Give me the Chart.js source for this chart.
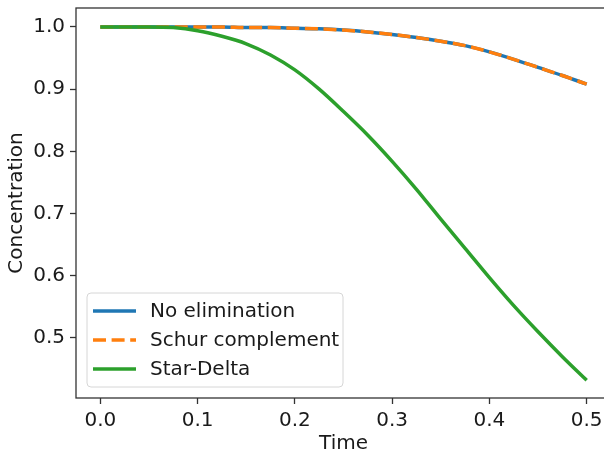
<!DOCTYPE html>
<html>
<head>
<meta charset="utf-8">
<script src="https://cdn.jsdelivr.net/npm/chart.js@4/dist/chart.umd.min.js"></script>
<style>
  html, body { margin: 0; padding: 0; background: #fff; overflow: hidden; }
  #wrap { width: 620px; height: 457px; }
</style>
</head>
<body>
<div id="wrap"><canvas id="concChart"></canvas></div>
<script>
// Data
const times = [0.000, 0.025, 0.050, 0.075, 0.100, 0.125, 0.150, 0.175, 0.200, 0.225, 0.250,
               0.275, 0.300, 0.325, 0.350, 0.375, 0.400, 0.425, 0.450, 0.475, 0.500];
const noElimination = [1.000, 1.000, 1.000, 1.000, 1.000, 1.000, 0.999, 0.999, 0.998, 0.997, 0.995,
                       0.992, 0.988, 0.983, 0.977, 0.970, 0.960, 0.948, 0.935, 0.922, 0.908];
const schurComplement = [1.000, 1.000, 1.000, 1.000, 1.000, 1.000, 0.999, 0.999, 0.998, 0.997, 0.995,
                         0.992, 0.988, 0.983, 0.977, 0.970, 0.960, 0.948, 0.935, 0.922, 0.908];
const starDelta = [1.000, 1.000, 1.000, 0.999, 0.994, 0.985, 0.973, 0.955, 0.931, 0.900, 0.864,
                   0.826, 0.784, 0.739, 0.691, 0.644, 0.597, 0.552, 0.510, 0.470, 0.432];
const seriesNames = ['No elimination', 'Schur complement', 'Star-Delta'];
const xTicks = [0.0, 0.1, 0.2, 0.3, 0.4, 0.5];
const yTicks = [0.5, 0.6, 0.7, 0.8, 0.9, 1.0];

const FONT = 'DejaVu Sans';
const toPoints = (ys) => ys.map((y, i) => ({x: times[i], y: y}));

// no extra room for overhanging tick labels, the plot box is fixed
function fixBox(s) {
    s.paddingTop = 0; s.paddingBottom = 0; s.paddingLeft = 0; s.paddingRight = 0;
}

// frame around the plot area + legend inside it
const framePlugin = {
    id: 'frame',
    afterDatasetsDraw(chart) {
        const {ctx, chartArea} = chart;
        ctx.save();
        ctx.strokeStyle = '#333';
        ctx.lineWidth = 1.3;
        ctx.strokeRect(chartArea.left, chartArea.top, chartArea.right - chartArea.left, chartArea.bottom - chartArea.top);

        // legend box
        const bx = 87, by = 293, bw = 256, bh = 94, r = 4;
        ctx.beginPath();
        ctx.moveTo(bx + r, by);
        ctx.arcTo(bx + bw, by, bx + bw, by + bh, r);
        ctx.arcTo(bx + bw, by + bh, bx, by + bh, r);
        ctx.arcTo(bx, by + bh, bx, by, r);
        ctx.arcTo(bx, by, bx + bw, by, r);
        ctx.closePath();
        ctx.fillStyle = 'rgba(255,255,255,0.85)';
        ctx.fill();
        ctx.strokeStyle = '#d6d6d6';
        ctx.lineWidth = 1;
        ctx.stroke();

        ctx.font = '20px "' + FONT + '"';
        ctx.textBaseline = 'middle';
        chart.data.datasets.forEach((ds, i) => {
            const yy = 311 + i * 29;
            ctx.beginPath();
            ctx.setLineDash(ds.borderDash || []);
            ctx.strokeStyle = ds.borderColor;
            ctx.lineWidth = ds.borderWidth;
            ctx.moveTo(93, yy);
            ctx.lineTo(136, yy);
            ctx.stroke();
            ctx.setLineDash([]);
            ctx.fillStyle = '#1a1a1a';
            ctx.fillText(ds.label, 150, yy + 1);
        });
        ctx.restore();
    }
};

new Chart('concChart', {
    type: 'line',
    data: {
        datasets: [
            {label: seriesNames[0], data: toPoints(noElimination), borderColor: '#1f77b4', borderWidth: 3.5, order: 3},
            {label: seriesNames[1], data: toPoints(schurComplement), borderColor: '#ff7f0e', borderWidth: 3.5, borderDash: [13, 5.6], order: 2},
            {label: seriesNames[2], data: toPoints(starDelta), borderColor: '#2ca02c', borderWidth: 3.5, order: 1}
        ]
    },
    options: {
        responsive: true,
        maintainAspectRatio: false,
        animation: false,
        devicePixelRatio: 1,
        elements: {
            point: {radius: 0},
            line: {cubicInterpolationMode: 'monotone', borderCapStyle: 'butt'}
        },
        layout: {padding: {top: 8, right: 9, left: 0, bottom: 0}},
        plugins: {legend: {display: false}, tooltip: {enabled: false}},
        scales: {
            x: {
                type: 'linear',
                min: -0.025,
                max: 0.525,
                afterBuildTicks: (s) => { s.ticks = xTicks.map(v => ({value: v})); },
                afterFit: (s) => { s.height = 59; fixBox(s); },
                grid: {drawOnChartArea: false, drawTicks: true, tickLength: 6, tickColor: '#333', tickWidth: 1.3},
                border: {display: false},
                ticks: {
                    color: '#1a1a1a', padding: 5, maxRotation: 0,
                    font: {family: FONT, size: 20},
                    callback: (v) => Number(v).toFixed(1)
                },
                title: {display: true, text: 'Time', color: '#1a1a1a', font: {family: FONT, size: 20}, padding: {top: 0, bottom: 1}}
            },
            y: {
                type: 'linear',
                min: 0.4035,
                max: 1.0305,
                afterBuildTicks: (s) => { s.ticks = yTicks.map(v => ({value: v})); },
                afterFit: (s) => { s.width = 76; fixBox(s); },
                grid: {drawOnChartArea: false, drawTicks: true, tickLength: 6, tickColor: '#333', tickWidth: 1.3},
                border: {display: false},
                ticks: {
                    color: '#1a1a1a', padding: 5,
                    font: {family: FONT, size: 20},
                    callback: (v) => Number(v).toFixed(1)
                },
                title: {display: true, text: 'Concentration', color: '#1a1a1a', font: {family: FONT, size: 20}, padding: {top: 5, bottom: 0}}
            }
        }
    },
    plugins: [framePlugin]
});
</script>
</body>
</html>
